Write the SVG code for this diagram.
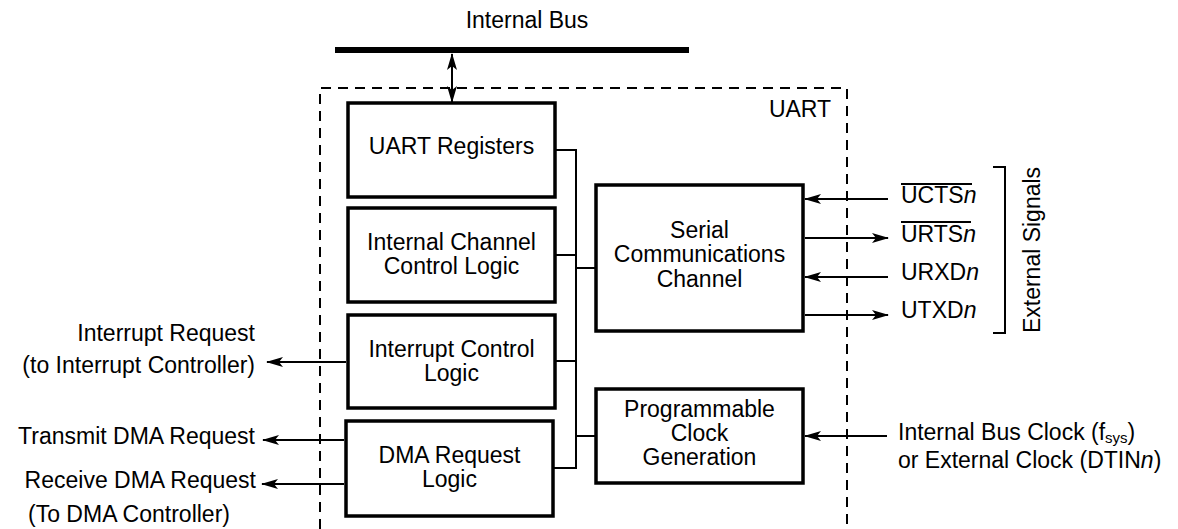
<svg xmlns="http://www.w3.org/2000/svg" width="1178" height="529" viewBox="0 0 1178 529">
<style>
text{font-family:"Liberation Sans",Arial,sans-serif;font-size:23px;fill:#000}
.box{fill:#fff;stroke:#000;stroke-width:3.5}
.ln{fill:none;stroke:#000;stroke-width:2}
.c{text-anchor:middle}
.r{text-anchor:end}
</style>
<defs>
<marker id="ah" viewBox="0 0 17 10" refX="16" refY="5" markerWidth="17" markerHeight="10" markerUnits="userSpaceOnUse" orient="auto-start-reverse">
<path d="M0,0 L17,5 L0,10 L4,5 z" fill="#000"/>
</marker>
</defs>
<rect width="1178" height="529" fill="#fff"/>
<g id="internal-bus">
<rect x="335" y="47" width="354" height="6" fill="#000"/>
<text x="527" y="28" class="c">Internal Bus</text>
</g>
<g id="uart-boundary">
<path d="M320,529 V88 H847 V529" fill="none" stroke="#000" stroke-width="2" stroke-dasharray="10,7"/>
<text x="800" y="117" class="c">UART</text>
</g>
<g id="uart-registers">
<rect class="box" x="348" y="103" width="207" height="94"/>
<text x="451.5" y="154" class="c">UART Registers</text>
</g>
<g id="internal-channel-control">
<rect class="box" x="348" y="208" width="207" height="94"/>
<text x="451.5" y="250" class="c">Internal Channel</text>
<text x="451.5" y="274" class="c">Control Logic</text>
</g>
<g id="interrupt-control">
<rect class="box" x="348" y="315" width="207" height="93"/>
<text x="451.5" y="357" class="c">Interrupt Control</text>
<text x="451.5" y="381" class="c">Logic</text>
</g>
<g id="dma-request">
<rect class="box" x="346" y="421" width="207" height="95"/>
<text x="449.5" y="463" class="c">DMA Request</text>
<text x="449.5" y="487" class="c">Logic</text>
</g>
<g id="serial-channel">
<rect class="box" x="596" y="185" width="207" height="146"/>
<text x="699.5" y="238" class="c">Serial</text>
<text x="699.5" y="262" class="c">Communications</text>
<text x="699.5" y="287" class="c">Channel</text>
</g>
<g id="clock-generation">
<rect class="box" x="596" y="389" width="207" height="94"/>
<text x="699.5" y="417" class="c">Programmable</text>
<text x="699.5" y="441" class="c">Clock</text>
<text x="699.5" y="465" class="c">Generation</text>
</g>
<g id="external-signals">
<text x="901" y="203">UCTS<tspan font-style="italic">n</tspan></text>
<line class="ln" x1="901" y1="184" x2="972" y2="184" stroke-width="1.5"/>
<text x="901" y="242">URTS<tspan font-style="italic">n</tspan></text>
<line class="ln" x1="901" y1="222" x2="971" y2="222" stroke-width="1.5"/>
<text x="901" y="280">URXD<tspan font-style="italic">n</tspan></text>
<text x="901" y="318">UTXD<tspan font-style="italic">n</tspan></text>
<path class="ln" d="M993,167 H1005 V333 H993"/>
<text transform="translate(1040,250) rotate(-90)" class="c">External Signals</text>
</g>
<g id="left-labels">
<text x="255" y="341" class="r">Interrupt Request</text>
<text x="255" y="373" class="r">(to Interrupt Controller)</text>
<text x="255" y="444" class="r">Transmit DMA Request</text>
<text x="256" y="488" class="r">Receive DMA Request</text>
<text x="129" y="522" class="c">(To DMA Controller)</text>
</g>
<g id="clock-source">
<text x="898" y="440">Internal Bus Clock (f<tspan font-size="15" dy="3">sys</tspan><tspan dy="-3">)</tspan></text>
<text x="898" y="468">or External Clock (DTIN<tspan font-style="italic">n</tspan>)</text>
</g>
<g id="connectors">
<line class="ln" x1="452" y1="54" x2="452" y2="102" marker-start="url(#ah)" marker-end="url(#ah)"/>
<path class="ln" d="M555,150 H576 V468 H553"/>
<line class="ln" x1="555" y1="255" x2="576" y2="255"/>
<line class="ln" x1="555" y1="361" x2="576" y2="361"/>
<line class="ln" x1="576" y1="268" x2="596" y2="268"/>
<line class="ln" x1="576" y1="436" x2="596" y2="436"/>
<line class="ln" x1="888" y1="199" x2="805" y2="199" marker-end="url(#ah)"/>
<line class="ln" x1="805" y1="238" x2="888" y2="238" marker-end="url(#ah)"/>
<line class="ln" x1="888" y1="277" x2="805" y2="277" marker-end="url(#ah)"/>
<line class="ln" x1="805" y1="315" x2="888" y2="315" marker-end="url(#ah)"/>
<line class="ln" x1="887" y1="436" x2="805" y2="436" marker-end="url(#ah)"/>
<line class="ln" x1="346" y1="362" x2="267" y2="362" marker-end="url(#ah)"/>
<line class="ln" x1="344" y1="440" x2="263" y2="440" marker-end="url(#ah)"/>
<line class="ln" x1="344" y1="484" x2="262" y2="484" marker-end="url(#ah)"/>
</g>
</svg>
